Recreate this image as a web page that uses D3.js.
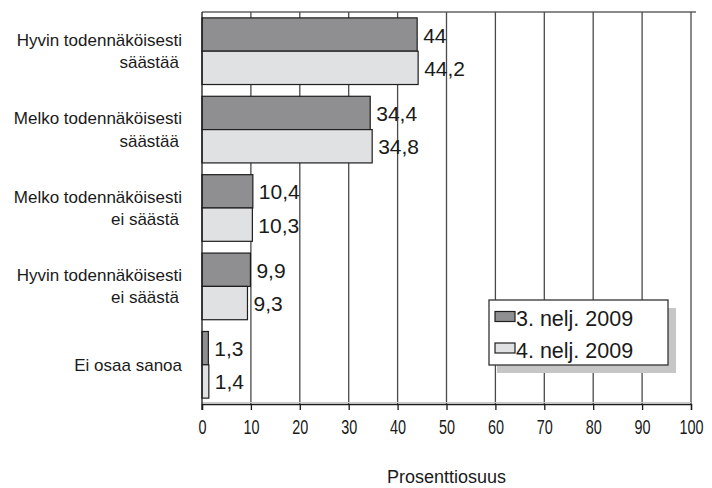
<!DOCTYPE html>
<html>
<head>
<meta charset="utf-8">
<script src="https://cdn.jsdelivr.net/npm/d3@7"></script>
<style>
  html, body { margin: 0; padding: 0; background: #fff; }
  svg { display: block; }
</style>
</head>
<body>
<svg id="chart" width="712" height="488"></svg>
<script>
// ---- data ----
const categories = [
  ["Hyvin todennäköisesti", "säästää"],
  ["Melko todennäköisesti", "säästää"],
  ["Melko todennäköisesti", "ei säästä"],
  ["Hyvin todennäköisesti", "ei säästä"],
  ["Ei osaa sanoa"]
];
const seriesNames = ["3. nelj. 2009", "4. nelj. 2009"];
const q3Values = [44, 34.4, 10.4, 9.9, 1.3];
const q4Values = [44.2, 34.8, 10.3, 9.3, 1.4];
const valueLabelsQ3 = ["44", "34,4", "10,4", "9,9", "1,3"];
const valueLabelsQ4 = ["44,2", "34,8", "10,3", "9,3", "1,4"];
const xTicks = [0, 10, 20, 30, 40, 50, 60, 70, 80, 90, 100];
const axisTitle = "Prosenttiosuus";

// ---- layout ----
const M = { left: 202, right: 691, top: 12, bottom: 404 };
const colors = ["#8f8f91", "#e0e1e3"];
const svg = d3.select("#chart");

const x = d3.scaleLinear().domain([0, 100]).range([M.left, M.right]);
const y = d3.scaleBand().domain(d3.range(categories.length)).range([M.top, M.bottom])
  .paddingInner(0.15).paddingOuter(0.075);
const ySub = d3.scaleBand().domain([0, 1]).range([0, y.bandwidth()]);

// top border
svg.append("line").attr("x1", M.left).attr("x2", M.right + 5).attr("y1", M.top).attr("y2", M.top)
  .attr("stroke", "#8a8a8a").attr("stroke-width", 2);

// vertical gridlines
svg.append("g").selectAll("line").data(xTicks.filter(d => d > 0)).join("line")
  .attr("x1", d => x(d)).attr("x2", d => x(d))
  .attr("y1", M.top).attr("y2", M.bottom)
  .attr("stroke", "#4a4a4a").attr("stroke-width", 1.3);

// light bottom border
svg.append("line").attr("x1", M.left).attr("x2", M.right).attr("y1", M.bottom - 1.5).attr("y2", M.bottom - 1.5)
  .attr("stroke", "#c8c8c8").attr("stroke-width", 1);

// bars
const series = [q3Values, q4Values];
const labels = [valueLabelsQ3, valueLabelsQ4];
series.forEach((vals, s) => {
  const g = svg.append("g");
  g.selectAll("rect").data(vals).join("rect")
    .attr("x", x(0))
    .attr("y", (d, i) => y(i) + ySub(s))
    .attr("width", d => x(d) - x(0))
    .attr("height", ySub.bandwidth())
    .attr("fill", colors[s])
    .attr("stroke", "#1e1e1e").attr("stroke-width", 1.2);
  g.selectAll("text").data(vals).join("text")
    .attr("x", d => x(d) + 6)
    .attr("y", (d, i) => y(i) + ySub(s) + ySub.bandwidth() / 2 + 8)
    .attr("font-family", "Liberation Sans, Arial, sans-serif")
    .attr("font-size", 21)
    .attr("fill", "#1a1a1a")
    .text((d, i) => labels[s][i]);
});

// left axis line
svg.append("line").attr("x1", M.left).attr("x2", M.left).attr("y1", M.top).attr("y2", M.bottom + 6)
  .attr("stroke", "#1a1a1a").attr("stroke-width", 1.3);

// bottom axis
const xAxis = d3.axisBottom(x).tickValues(xTicks).tickSize(6).tickPadding(10);
const ax = svg.append("g").attr("transform", `translate(0,${M.bottom})`).call(xAxis);
ax.select(".domain").attr("stroke", "#1a1a1a").attr("stroke-width", 1.3);
ax.selectAll(".tick line").attr("stroke", "#1a1a1a").attr("stroke-width", 1.3);
ax.selectAll(".tick text")
  .attr("font-family", "Liberation Sans, Arial, sans-serif")
  .attr("font-size", 19.5).attr("fill", "#1a1a1a")
  .attr("transform", "scale(0.74,1)");

// category labels
categories.forEach((lines, i) => {
  const c = y(i) + y.bandwidth() / 2;
  const t = svg.append("text")
    .attr("font-family", "Liberation Sans, Arial, sans-serif")
    .attr("font-size", 17).attr("fill", "#1a1a1a").attr("text-anchor", "end");
  if (lines.length === 1) {
    t.append("tspan").attr("x", 182).attr("y", c + 6).text(lines[0]);
  } else {
    t.append("tspan").attr("x", 182).attr("y", c - 5.5).text(lines[0]);
    t.append("tspan").attr("x", 179).attr("y", c + 17).text(lines[1]);
  }
});

// axis title
svg.append("text").attr("x", (M.left + M.right) / 2).attr("y", 483)
  .attr("text-anchor", "middle")
  .attr("font-family", "Liberation Sans, Arial, sans-serif")
  .attr("font-size", 18).attr("fill", "#1a1a1a").text(axisTitle);

// legend
const lg = svg.append("g").attr("transform", "translate(489,300)");
lg.append("rect").attr("x", 8).attr("y", 8).attr("width", 179).attr("height", 65).attr("fill", "#c6c6c6");
lg.append("rect").attr("x", 0).attr("y", 0).attr("width", 179).attr("height", 65)
  .attr("fill", "#fff").attr("stroke", "#333").attr("stroke-width", 1.3);
seriesNames.forEach((name, s) => {
  const yy = 11.5 + s * 31.5;
  lg.append("rect").attr("x", 6).attr("y", yy).attr("width", 20).attr("height", 10)
    .attr("fill", colors[s]).attr("stroke", "#1e1e1e").attr("stroke-width", 1.2);
  lg.append("text").attr("x", 27).attr("y", yy + 14.5)
    .attr("font-family", "Liberation Sans, Arial, sans-serif")
    .attr("font-size", 21.5).attr("fill", "#1a1a1a").text(name);
});
</script>
</body>
</html>
